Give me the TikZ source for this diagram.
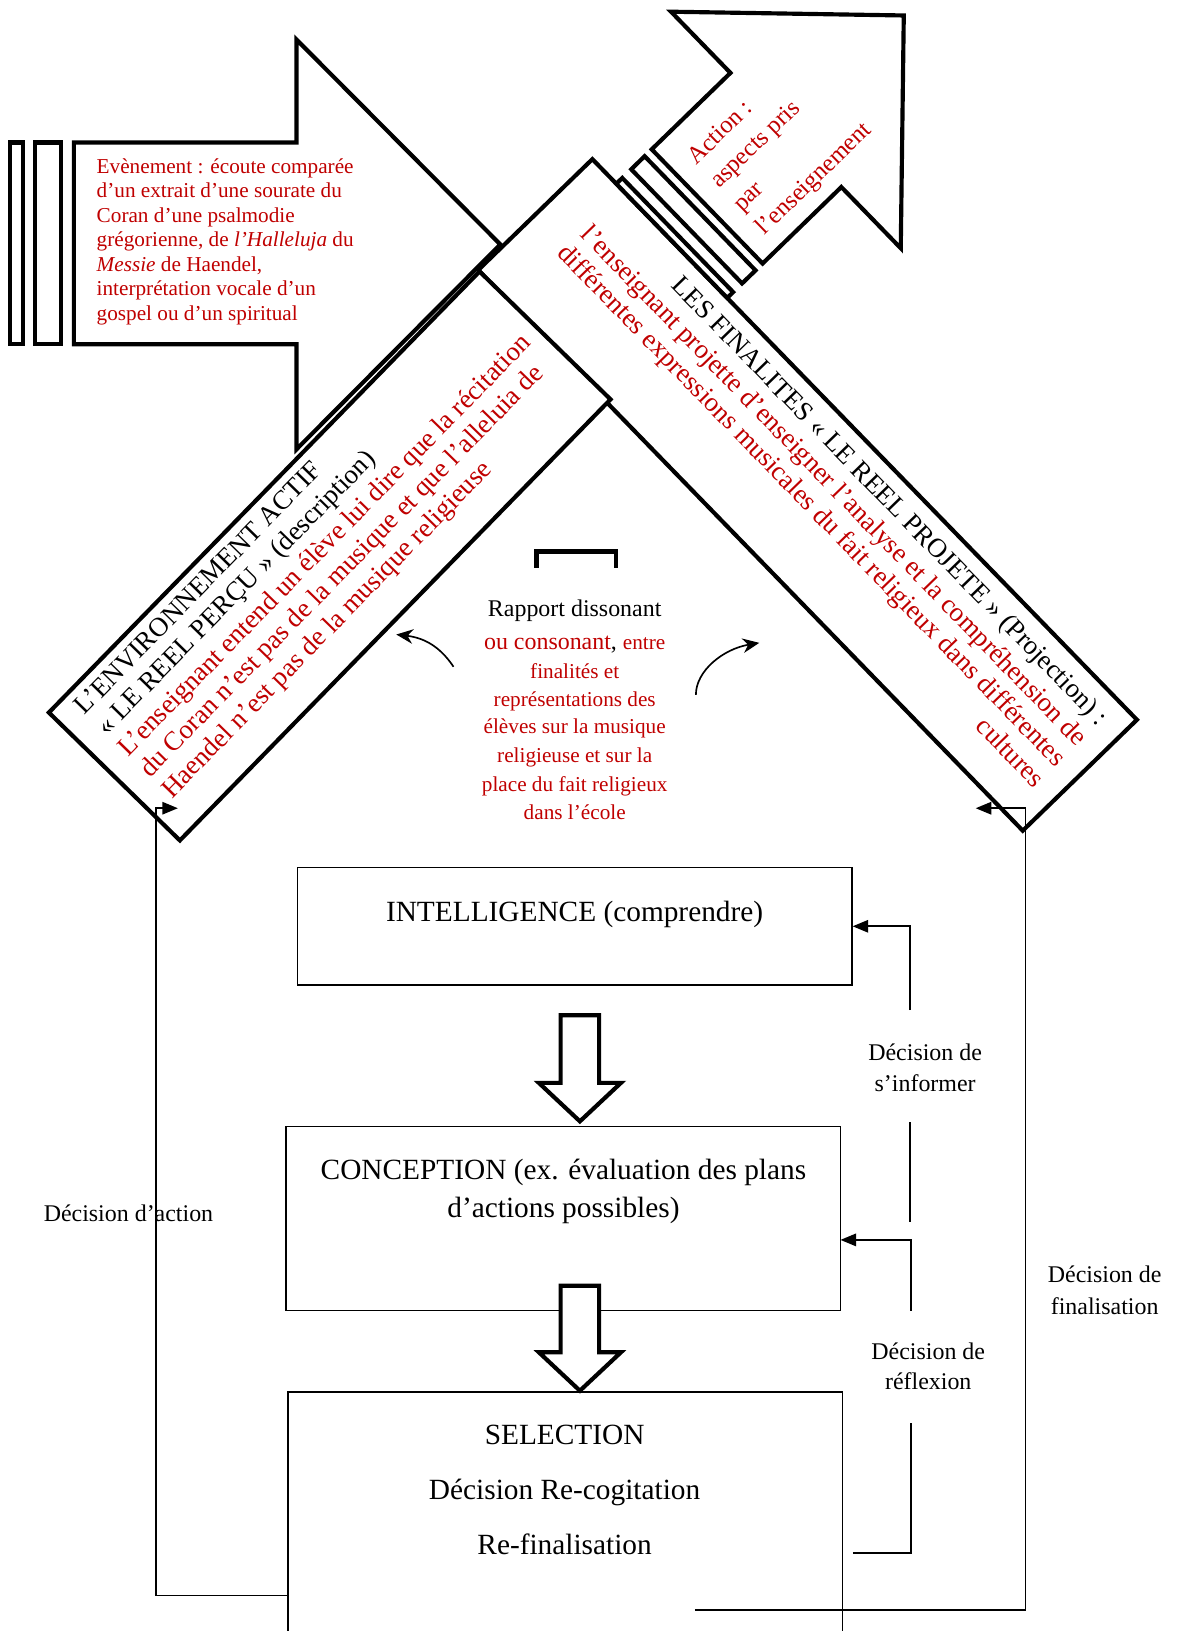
\documentclass[tikz,border=0pt]{standalone}
\usepackage{fontspec}
\setmainfont{Liberation Serif}
\usetikzlibrary{arrows.meta,calc}
\definecolor{dkred}{RGB}{192,0,0}
\newcommand\fsEv{\fontsize{10.2}{12}\selectfont}
\newcommand\fsAct{\fontsize{11.8}{14}\selectfont}
\newcommand\fsRot{\fontsize{12.95}{15}\selectfont}
\newcommand\fsMid{\fontsize{11.5}{13.8}\selectfont}
\newcommand\fsMidR{\fontsize{10.2}{12}\selectfont}
\newcommand\fsBox{\fontsize{14.1}{17}\selectfont}
\newcommand\fsLab{\fontsize{11.5}{13.8}\selectfont}
\begin{document}
\begin{tikzpicture}[x=0.5pt,y=-0.5pt,
  thk/.style={draw=black, line width=2pt, fill=white, line join=miter},
  txt/.style={inner sep=0pt, outer sep=0pt},
  rtxt/.style={inner sep=0pt, outer sep=0pt, text=dkred},
  boxn/.style={draw=black, line width=0.7pt, fill=white, inner sep=0pt, minimum width=266.5pt},
  conn/.style={line width=0.8pt, -{Triangle[length=7.5pt,width=6pt]}},
  plain/.style={line width=0.8pt},
  curv/.style={line width=0.8pt, -{Stealth[length=8pt,width=7pt]}}
]
\useasboundingbox (0,0) rectangle (1133,1568);
\clip (0,0) rectangle (1133,1568);

% ---------- Evenement arrow ----------
\draw[thk] (10,137) rectangle (22,331);
\draw[thk] (34,137) rectangle (59,331);
\draw[thk] (71,137) -- (285,137) -- (285,38) -- (481,235) -- (285,432) -- (285,331) -- (71,331) -- cycle;
\begin{scope}[fsev/.style={rtxt, anchor=base west, font=\fsEv}]
\node[fsev] (ev1) at (93,166.5) {Evènement : écoute comparée};
\node[fsev] (ev2) at (93,190.1) {d’un extrait d’une sourate du};
\node[fsev] (ev3) at (93,213.7) {Coran d’une psalmodie};
\node[fsev] (ev4) at (93,237.3) {grégorienne, de \textit{l’Halleluja} du};
\node[fsev] (ev5) at (93,260.9) {\textit{Messie} de Haendel,};
\node[fsev] (ev6) at (93,284.5) {interprétation vocale d’un};
\node[fsev] (ev7) at (93,308) {gospel ou d’un spiritual};
\end{scope}

% ---------- right box frame (origin = top corner) ----------
\begin{scope}[shift={(569.5,153)}, x={(0.34835pt,-0.35865pt)}, y={(-0.35865pt,-0.34835pt)}]
\draw[thk] (0,0) -- (751.4,0) -- (751.4,153) -- (0,153) -- cycle;
% bars and Action arrow
\draw[thk] (33,0) -- (186,0) -- (186,-8) -- (33,-8) -- cycle;
\draw[thk] (33,-20) -- (186,-20) -- (186,-38) -- (33,-38) -- cycle;
\draw[thk] (33,-47.5) -- (186,-47.5) -- (186,-153) -- (268,-153) -- (109.5,-311) -- (-49,-153) -- (33,-153) -- cycle;
\begin{scope}[fsact/.style={rtxt, anchor=base west, rotate=44.17, font=\fsAct}]
\node[fsact] (ac1) at (74,-67.5) {Action :};
\node[fsact] (ac2) at (105.5,-67.5) {aspects pris};
\node[fsact] (ac3) at (137,-67.5) {par};
\node[fsact] (ac4) at (168.5,-67.5) {l’enseignement};
\end{scope}
\begin{scope}[fsr/.style={anchor=base east, rotate=-45.83, font=\fsRot}]
\node[txt, fsr] (fi1) at (730,31.5) {LES FINALITES « LE REEL PROJETE » (Projection) :};
\node[rtxt, fsr] (fi2) at (730,60) {l’enseignant projette d’enseigner l’analyse et la compréhension de};
\node[rtxt, fsr] (fi3) at (730,88.5) {différentes expressions musicales du fait religieux dans différentes};
\node[rtxt, fsr] (fi4) at (730,117) {cultures};
\end{scope}
\end{scope}

% ---------- left box frame (origin = left corner) ----------
\begin{scope}[shift={(47,685)}, x={(0.3493pt,0.35775pt)}, y={(0.35775pt,-0.3493pt)}]
\draw[thk] (0,0) -- (592.6,0) -- (592.6,176) -- (0,176) -- cycle;
\begin{scope}[fsl/.style={anchor=base west, rotate=45.68, font=\fsRot}]
\node[txt, fsl] (en1) at (22,27) {L’ENVIRONNEMENT ACTIF};
\node[txt, fsl] (en2) at (23,56) {« LE REEL PERÇU » (description)};
\node[rtxt, fsl] (en3) at (22,85) {L’enseignant entend un élève lui dire que la récitation};
\node[rtxt, fsl] (en4) at (23,114) {du Coran n’est pas de la musique et que l’alleluia de};
\node[rtxt, fsl] (en5) at (23,143) {Haendel n’est pas de la musique religieuse};
\end{scope}
\end{scope}

% ---------- middle ----------
\draw[line width=2.2pt] (516,546) -- (516,530) -- (592,530) -- (592,546);
\node[txt, anchor=base, font=\fsMid] (m1) at (552.5,593) {Rapport dissonant};
\node[txt, anchor=base, font=\fsMid] (m2) at (552.5,624) {\textcolor{dkred}{ou consonant},\ {\fsMidR\textcolor{dkred}{entre}}};
\begin{scope}[fsm/.style={rtxt, anchor=base, font=\fsMidR}]
\node[fsm] (m3) at (552.5,652) {finalités et};
\node[fsm] (m4) at (552.5,679) {représentations des};
\node[fsm] (m5) at (552.5,705.5) {élèves sur la musique};
\node[fsm] (m6) at (552.5,733.5) {religieuse et sur la};
\node[fsm] (m7) at (552.5,761) {place du fait religieux};
\node[fsm] (m8) at (552.5,788) {dans l’école};
\end{scope}
\coordinate (cl1) at (436,641);
\coordinate (cl2) at (381,610);
\draw[curv] (cl1) .. controls (422,620) and (406,613) .. (cl2);
\coordinate (cr1) at (669,668);
\coordinate (cr2) at (730,618);
\draw[curv] (cr1) .. controls (669,645) and (695,624) .. (cr2);

% ---------- bottom boxes ----------
\node[boxn, minimum height=56.5pt] (intel) at (552.5,890.5) {};
\node[boxn, minimum height=88.5pt] (conc) at (541.5,1171.5) {};
\node[boxn, minimum height=150pt] (sel) at (543.5,1488) {};
\node[txt, anchor=base, font=\fsBox] (tI) at (552.4,886.2) {INTELLIGENCE (comprendre)};
\node[txt, anchor=base, font=\fsBox] (tC1) at (541.7,1134) {CONCEPTION (ex. évaluation des plans};
\node[txt, anchor=base, font=\fsBox] (tC2) at (541.7,1170) {d’actions possibles)};
\node[txt, anchor=base, font=\fsBox] (tS1) at (542.8,1388.6) {SELECTION};
\node[txt, anchor=base, font=\fsBox] (tS2) at (542.8,1441.5) {Décision Re-cogitation};
\node[txt, anchor=base, font=\fsBox] (tS3) at (542.8,1494.3) {Re-finalisation};

% hollow arrows
\draw[thk] (539,976) -- (576,976) -- (576,1041) -- (597,1041) -- (557.5,1078) -- (518,1041) -- (539,1041) -- cycle;
\draw[thk] (539,1236) -- (576,1236) -- (576,1300) -- (597,1300) -- (557.5,1337) -- (518,1300) -- (539,1300) -- cycle;

% ---------- connectors ----------
\coordinate (actA) at (277,1534);
\coordinate (actB) at (171,777);
\draw[conn] (actA) -- (150,1534) |- (actB);
\coordinate (finA) at (668,1548);
\coordinate (finB) at (938,777);
\draw[conn] (finA) -- (986,1548) |- (finB);
\coordinate (infA) at (875,971);
\draw[conn] (infA) |- (intel.east);
\coordinate (infC) at (875,1079);
\coordinate (infD) at (875,1175);
\draw[plain] (infC) -- (infD);
\coordinate (refA) at (876,1260);
\coordinate (concE) at (808,1192);
\draw[conn] (refA) |- (concE);
\coordinate (refB) at (820,1493);
\coordinate (refC) at (876,1368);
\draw[plain] (refB) -| (refC);

% labels
\begin{scope}[lab/.style={txt, anchor=base, font=\fsLab}]
\node[lab] (l1) at (889.4,1020) {Décision de};
\node[lab] (l2) at (889.4,1049.3) {s’informer};
\node[lab] (l3) at (892.4,1307) {Décision de};
\node[lab] (l4) at (892.4,1336) {réflexion};
\node[lab] (l5) at (1062,1233.3) {Décision de};
\node[lab] (l6) at (1062,1263.3) {finalisation};
\node[lab] (l7) at (123.5,1174) {Décision d’action};
\end{scope}
\end{tikzpicture}
\end{document}
